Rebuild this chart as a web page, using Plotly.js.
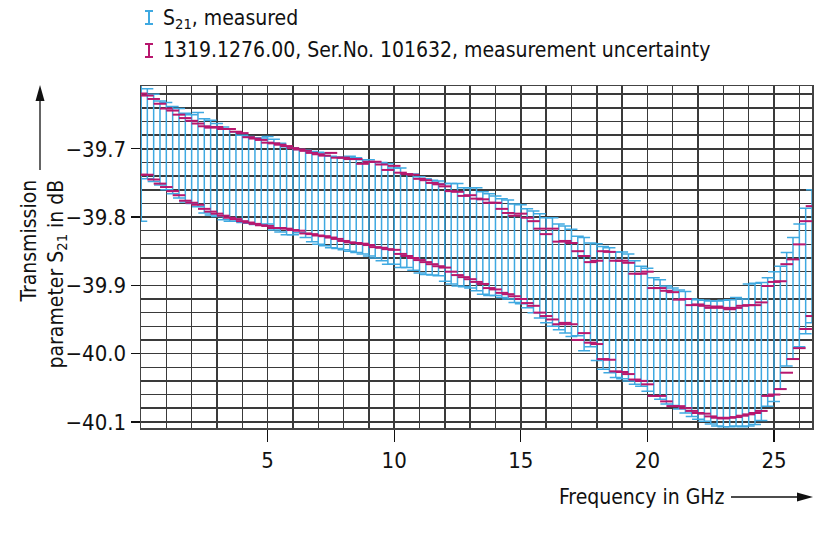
<!DOCTYPE html>
<html><head><meta charset="utf-8">
<script src="https://cdn.plot.ly/plotly-3.0.1.min.js"></script>
<style>html,body{margin:0;padding:0;background:#fff}</style>
</head><body><div id="chart" style="width:820px;height:540px"></div>
<script>
// Frequency points (GHz)
const freq = [0.01,0.25,0.5,0.75,1,1.25,1.5,1.75,2,2.25,2.5,2.75,3,3.25,3.5,3.75,4,4.25,4.5,4.75,5,5.25,5.5,5.75,6,6.25,6.5,6.75,7,7.25,7.5,7.75,8,8.25,8.5,8.75,9,9.25,9.5,9.75,10,10.25,10.5,10.75,11,11.25,11.5,11.75,12,12.25,12.5,12.75,13,13.25,13.5,13.75,14,14.25,14.5,14.75,15,15.25,15.5,15.75,16,16.25,16.5,16.75,17,17.25,17.5,17.75,18,18.25,18.5,18.75,19,19.25,19.5,19.75,20,20.25,20.5,20.75,21,21.25,21.5,21.75,22,22.25,22.5,22.75,23,23.25,23.5,23.75,24,24.25,24.5,24.75,25,25.25,25.5,25.75,26,26.25,26.5];

// S21 measured: upper / lower end of error bar (dB)
const s21Upper = [-39.605,
-39.612,-39.620,-39.630,
-39.632,-39.638,-39.641,-39.648,
-39.650,-39.647,-39.656,-39.658,
-39.663,-39.668,-39.671,-39.675,
-39.680,-39.682,-39.684,-39.684,
-39.682,-39.686,-39.692,-39.697,
-39.699,-39.701,-39.702,-39.704,
-39.705,-39.706,-39.711,-39.712,
-39.713,-39.711,-39.713,-39.716,
-39.716,-39.719,-39.720,-39.722,
-39.728,-39.728,-39.737,-39.737,
-39.741,-39.744,-39.746,-39.747,
-39.751,-39.751,-39.751,-39.757,
-39.757,-39.757,-39.763,-39.766,
-39.769,-39.773,-39.775,-39.781,
-39.782,-39.788,-39.791,-39.795,
-39.801,-39.801,-39.810,-39.813,
-39.818,-39.828,-39.830,-39.838,
-39.839,-39.843,-39.845,-39.851,
-39.851,-39.854,-39.864,-39.872,
-39.875,-39.889,-39.892,-39.901,
-39.904,-39.907,-39.909,-39.920,
-39.921,-39.922,-39.923,-39.923,
-39.922,-39.921,-39.918,-39.920,
-39.898,-39.897,-39.896,-39.889,
-39.880,-39.872,-39.852,-39.830,
-39.810,-39.787,-39.760];
const s21Lower = [-39.806,
-39.744,-39.748,-39.753,
-39.760,-39.766,-39.772,-39.778,
-39.780,-39.785,-39.794,-39.797,
-39.799,-39.804,-39.806,-39.806,
-39.808,-39.809,-39.811,-39.812,
-39.810,-39.819,-39.822,-39.826,
-39.826,-39.823,-39.830,-39.836,
-39.840,-39.842,-39.845,-39.846,
-39.848,-39.850,-39.852,-39.854,
-39.857,-39.860,-39.864,-39.869,
-39.869,-39.874,-39.874,-39.878,
-39.882,-39.884,-39.885,-39.886,
-39.894,-39.898,-39.901,-39.902,
-39.904,-39.908,-39.913,-39.915,
-39.915,-39.918,-39.920,-39.925,
-39.927,-39.933,-39.940,-39.948,
-39.955,-39.960,-39.965,-39.970,
-39.975,-39.974,-39.996,-39.990,
-40.010,-40.023,-40.028,-40.035,
-40.037,-40.040,-40.045,-40.048,
-40.055,-40.062,-40.067,-40.074,
-40.076,-40.081,-40.087,-40.092,
-40.096,-40.099,-40.103,-40.106,
-40.107,-40.107,-40.106,-40.107,
-40.106,-40.104,-40.098,-40.077,
-40.070,-40.052,-40.018,-40.008,
-39.990,-39.971,-39.955];

// 1319.1276.00 measurement uncertainty: upper / lower limits (dB)
const uncUpper = [-39.619,
-39.622,-39.627,-39.634,
-39.641,-39.644,-39.650,-39.655,
-39.659,-39.663,-39.667,-39.669,
-39.668,-39.671,-39.671,-39.675,
-39.677,-39.683,-39.685,-39.687,
-39.691,-39.692,-39.694,-39.696,
-39.699,-39.701,-39.703,-39.706,
-39.708,-39.710,-39.706,-39.713,
-39.713,-39.715,-39.715,-39.722,
-39.719,-39.719,-39.723,-39.731,
-39.725,-39.735,-39.737,-39.738,
-39.744,-39.746,-39.750,-39.752,
-39.755,-39.762,-39.763,-39.769,
-39.768,-39.773,-39.774,-39.779,
-39.779,-39.788,-39.794,-39.798,
-39.795,-39.801,-39.806,-39.817,
-39.825,-39.817,-39.836,-39.835,
-39.838,-39.850,-39.857,-39.866,
-39.864,-39.850,-39.851,-39.864,
-39.864,-39.867,-39.883,-39.883,
-39.880,-39.904,-39.904,-39.908,
-39.910,-39.921,-39.920,-39.929,
-39.928,-39.930,-39.933,-39.931,
-39.933,-39.935,-39.933,-39.930,
-39.929,-39.929,-39.925,-39.901,
-39.895,-39.894,-39.869,-39.862,
-39.840,-39.806,-39.784];
const uncLower = [-39.738,
-39.738,-39.745,-39.751,
-39.756,-39.762,-39.768,-39.776,
-39.779,-39.782,-39.788,-39.792,
-39.795,-39.798,-39.801,-39.803,
-39.806,-39.808,-39.810,-39.812,
-39.813,-39.816,-39.816,-39.817,
-39.819,-39.820,-39.824,-39.825,
-39.827,-39.828,-39.830,-39.832,
-39.835,-39.837,-39.838,-39.839,
-39.841,-39.844,-39.845,-39.847,
-39.848,-39.854,-39.857,-39.860,
-39.863,-39.866,-39.869,-39.872,
-39.874,-39.880,-39.885,-39.888,
-39.891,-39.895,-39.898,-39.904,
-39.906,-39.911,-39.913,-39.916,
-39.920,-39.926,-39.930,-39.940,
-39.945,-39.950,-39.957,-39.955,
-39.957,-39.980,-39.970,-39.984,
-39.986,-40.008,-40.009,-40.026,
-40.027,-40.030,-40.038,-40.040,
-40.045,-40.062,-40.062,-40.070,
-40.077,-40.077,-40.080,-40.084,
-40.087,-40.088,-40.092,-40.094,
-40.095,-40.094,-40.093,-40.091,
-40.089,-40.087,-40.084,-40.062,
-40.060,-40.052,-40.028,-40.008,
-39.992,-39.964,-39.945];

const xTickVals = [5, 10, 15, 20, 25];
const yTickVals = [-40.1, -40.0, -39.9, -39.8, -39.7];
const yTickText = ['\u221240.1', '\u221240.0', '\u221239.9', '\u221239.8', '\u221239.7'];
const legendLabels = ['S<sub>21</sub>, measured', '1319.1276.00, Ser.No. 101632, measurement uncertainty'];
const axisTitles = {x: 'Frequency in GHz', y: 'Transmission<br>parameter S<sub>21</sub> in dB'};

const FONT = '"DejaVu Sans Condensed", "DejaVu Sans", sans-serif';
const BLUE = '#3fa9e1';
const MAG = '#b8176e';
const GRID = '#3a3a3a';
const TXT = {family: FONT, size: 21, color: '#111', stretch: 'condensed'};
const TICK = {family: FONT, size: 22, color: '#111', stretch: 'condensed'};

const mid = (u, l) => u.map((v, i) => (v + l[i]) / 2);
const half = (u, l) => u.map((v, i) => (v - l[i]) / 2);

// pixel -> paper helpers for decorations (plot area 141..812 x 86..428)
const L = 141, R = 812, T = 86, B = 428;
const px = p => (p - L) / (R - L);
const py = p => 1 - (p - T) / (B - T);

const traces = [
  {x: freq, y: mid(s21Upper, s21Lower), type: 'scatter', mode: 'markers',
   marker: {size: 1, opacity: 0}, hoverinfo: 'skip', showlegend: false,
   error_y: {type: 'data', symmetric: true, array: half(s21Upper, s21Lower), visible: true,
             color: BLUE, thickness: 1.5, width: 6}},
  {x: freq, y: uncUpper, type: 'scatter', mode: 'markers', hoverinfo: 'skip', showlegend: false,
   marker: {symbol: 'line-ew', size: 9, line: {color: MAG, width: 2}}},
  {x: freq, y: uncLower, type: 'scatter', mode: 'markers', hoverinfo: 'skip', showlegend: false,
   marker: {symbol: 'line-ew', size: 9, line: {color: MAG, width: 2}}}
];

function iconShapes(cx, yTop, yBot, color) {
  const w = 4;
  return [
    {type: 'line', xref: 'paper', yref: 'paper', x0: px(cx), x1: px(cx), y0: py(yTop), y1: py(yBot), line: {color: color, width: 2}},
    {type: 'line', xref: 'paper', yref: 'paper', x0: px(cx - w), x1: px(cx + w), y0: py(yTop), y1: py(yTop), line: {color: color, width: 2}},
    {type: 'line', xref: 'paper', yref: 'paper', x0: px(cx - w), x1: px(cx + w), y0: py(yBot), y1: py(yBot), line: {color: color, width: 2}}
  ];
}

const shapes = [].concat(
  iconShapes(149, 11, 24, BLUE),
  iconShapes(149, 44, 57, MAG),
  [
    {type: 'line', xref: 'paper', yref: 'paper', x0: px(40), x1: px(40), y0: py(170), y1: py(98), line: {color: '#111', width: 1.3}},
    {type: 'path', xref: 'paper', yref: 'paper',
     path: 'M' + px(40) + ',' + py(85) + ' L' + px(35.5) + ',' + py(101) + ' L' + px(44.5) + ',' + py(101) + ' Z',
     fillcolor: '#111', line: {width: 0}},
    {type: 'line', xref: 'paper', yref: 'paper', x0: px(731), x1: px(798), y0: py(497), y1: py(497), line: {color: '#111', width: 1.3}},
    {type: 'path', xref: 'paper', yref: 'paper',
     path: 'M' + px(813) + ',' + py(497) + ' L' + px(797) + ',' + py(492.5) + ' L' + px(797) + ',' + py(501.5) + ' Z',
     fillcolor: '#111', line: {width: 0}}
  ]
);

const annotations = [
  {text: legendLabels[0], xref: 'paper', yref: 'paper', x: px(161), y: py(19), xanchor: 'left', yanchor: 'middle',
   showarrow: false, font: TXT},
  {text: legendLabels[1], xref: 'paper', yref: 'paper', x: px(161), y: py(50), xanchor: 'left', yanchor: 'middle',
   showarrow: false, font: TXT},
  {text: axisTitles.x, xref: 'paper', yref: 'paper', x: px(557), y: py(497), xanchor: 'left', yanchor: 'middle',
   showarrow: false, font: TXT},
  {text: axisTitles.y, xref: 'paper', yref: 'paper', x: px(14), y: py(178), xanchor: 'left', yanchor: 'top',
   textangle: -90, align: 'right', showarrow: false, font: TXT}
];

const layout = {
  width: 820, height: 540,
  margin: {l: L, r: 820 - R, t: T, b: 540 - B, pad: 0},
  paper_bgcolor: '#fff', plot_bgcolor: '#fff',
  font: TICK,
  showlegend: false,
  xaxis: {
    range: [0, 26.5], tickmode: 'array', tickvals: xTickVals,
    ticks: 'outside', ticklen: 12, tickwidth: 1.3, tickcolor: '#111',
    showgrid: true, gridcolor: GRID, gridwidth: 1.5, zeroline: false,
    showline: true, mirror: true, linecolor: '#444', linewidth: 1.5,
    tickfont: TICK,
    minor: {tickmode: 'linear', tick0: 0, dtick: 1, showgrid: true, gridcolor: GRID, gridwidth: 1.5, ticks: ''},
    fixedrange: true
  },
  yaxis: {
    range: [-40.109, -39.608], tickmode: 'array', tickvals: yTickVals, ticktext: yTickText,
    ticks: 'outside', ticklen: 9, tickwidth: 1.3, tickcolor: '#111',
    showgrid: true, gridcolor: GRID, gridwidth: 1.5, zeroline: false,
    showline: true, mirror: true, linecolor: '#444', linewidth: 1.5,
    tickfont: TICK,
    minor: {tickmode: 'linear', tick0: -40.1, dtick: 0.02, showgrid: true, gridcolor: GRID, gridwidth: 1.5, ticks: ''},
    fixedrange: true
  },
  shapes: shapes,
  annotations: annotations
};

Plotly.newPlot('chart', traces, layout, {displayModeBar: false, staticPlot: true});
</script>
</body></html>
